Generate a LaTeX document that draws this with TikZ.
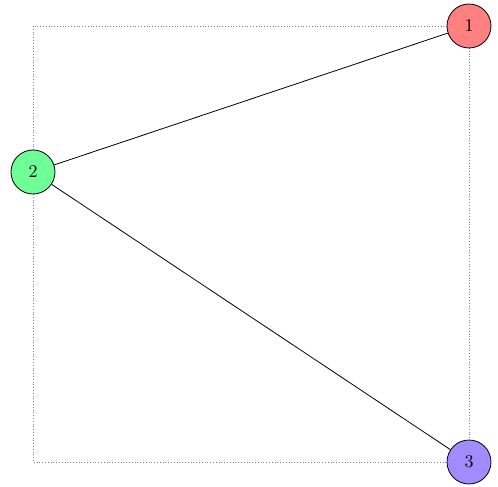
\documentclass[tikz,border=0pt]{standalone}
\usepackage{graphicx}
\begin{document}
\definecolor{nred}{RGB}{255,128,128}
\definecolor{ngreen}{RGB}{110,255,150}
\definecolor{nblue}{RGB}{160,140,255}
\newcommand{\vlabel}[1]{\scalebox{1.8}{#1}}
\begin{tikzpicture}[x=1pt,y=-1pt,
  vert/.style={circle,draw=black,line width=0.8pt,minimum size=44pt,inner sep=0pt},
  frame/.style={gray,dotted,line width=0.8pt},
  edge/.style={black,line width=0.8pt}]
\useasboundingbox (0,0) rectangle (498,487);
\coordinate (c1) at (33,26);
\coordinate (c2) at (469,462);
\draw[frame] (c1) rectangle (c2);
\node[vert,fill=nred] (n1) at (469,26) {\vlabel{1}};
\node[vert,fill=ngreen] (n2) at (33,172) {\vlabel{2}};
\node[vert,fill=nblue] (n3) at (469,462) {\vlabel{3}};
\draw[edge] (n1) -- (n2);
\draw[edge] (n2) -- (n3);
\end{tikzpicture}
\end{document}
